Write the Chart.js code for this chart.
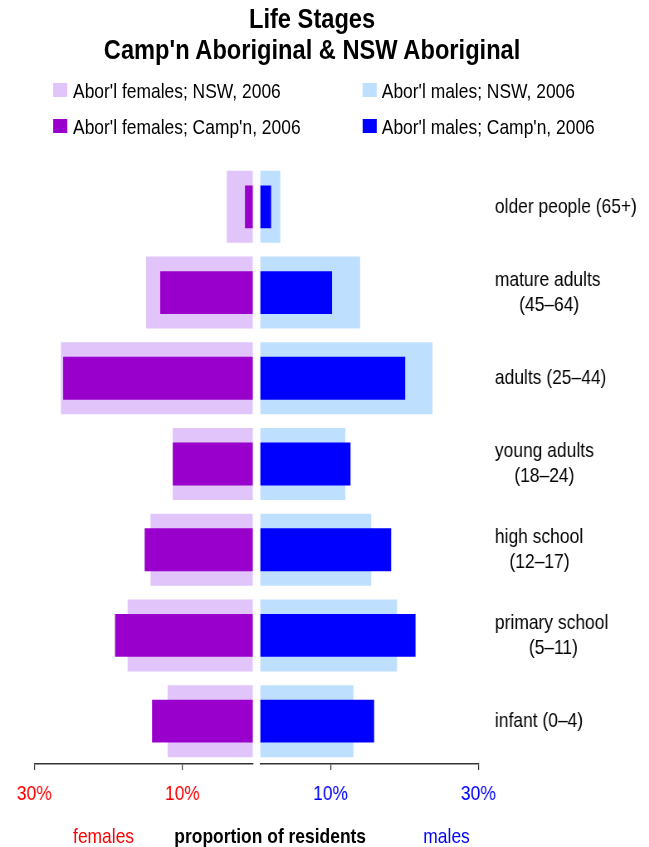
<!DOCTYPE html>
<html>
<head>
<meta charset="utf-8">
<title>Life Stages</title>
<script src="https://cdn.jsdelivr.net/npm/chart.js@4.4.0/dist/chart.umd.min.js"></script>
<style>
    body { margin: 0; overflow: hidden; background: #fff; }
    /* the reference text is narrow, so the whole page is laid out wider and squeezed */
    #stage {
        position: absolute; left: 0; top: 0; width: 782px; height: 847px;
        transform: scaleX(0.83); transform-origin: 0 0;
        font-family: "Liberation Sans", Arial, sans-serif; color: #000;
    }
    .txt { position: absolute; line-height: 1; white-space: nowrap; }
    .title { left: 0; width: 752px; text-align: center; font-size: 28.5px; font-weight: bold; }
    .leg { font-size: 21px; }
    .swatch { position: absolute; width: 17px; height: 14px; }
    .cap { font-size: 21px; top: 825px; }
    .box { position: absolute; top: 124px; height: 700px; }
</style>
</head>
<body>
<div id="stage">
    <div class="txt title" style="top:4px">Life Stages</div>
    <div class="txt title" style="top:35px">Camp'n Aboriginal &amp; NSW Aboriginal</div>
    <div id="legend"></div>
    <div class="box" style="left:0; width:309px"><canvas id="femChart"></canvas></div>
    <div class="box" style="left:309px; width:473px"><canvas id="maleChart"></canvas></div>
    <div class="txt cap" style="left:88px; color:#FF0000">females</div>
    <div class="txt cap" style="left:210px; font-weight:bold">proportion of residents</div>
    <div class="txt cap" style="left:510px; color:#0000FF">males</div>
</div>
<script>
// Life stage categories (top to bottom)
const stages = [
    ['older people (65+)'],
    ['mature adults', '     (45–64)'],
    ['adults (25–44)'],
    ['young adults', '    (18–24)'],
    ['high school', '   (12–17)'],
    ['primary school', '       (5–11)'],
    ['infant (0–4)']
];

// % of residents in each stage
const femNsw   = [4.0, 14.9, 26.4, 11.3, 14.3, 17.4, 12.0];
const femCampn = [1.55, 13.0, 26.1, 11.3, 15.1, 19.1, 14.1];
const maleNsw   = [3.2, 14.0, 23.8, 12.0, 15.5, 19.0, 13.1];
const maleCampn = [1.95, 10.2, 20.1, 12.7, 18.2, 21.5, 15.9];

const tickVals = [10, 30];

const seriesNames = [
    "Abor'l females; NSW, 2006",
    "Abor'l males; NSW, 2006",
    "Abor'l females; Camp'n, 2006",
    "Abor'l males; Camp'n, 2006"
];
const seriesColors = ['#E0C4FA', '#BFDFFF', '#9900CC', '#0000FF'];

const labelFont = { family: 'Liberation Sans', size: 21, lineHeight: 1.2 };

// Legend, two columns
const legend = document.getElementById('legend');
seriesNames.forEach((name, i) => {
    const col = i % 2, row = Math.floor(i / 2);
    const sw = document.createElement('div');
    sw.className = 'swatch';
    sw.style.left = (col ? 437 : 64) + 'px';
    sw.style.top = (83 + row * 36) + 'px';
    sw.style.background = seriesColors[i];
    legend.appendChild(sw);
    const t = document.createElement('div');
    t.className = 'txt leg';
    t.style.left = (col ? 460 : 88) + 'px';
    t.style.top = (80 + row * 36) + 'px';
    t.textContent = name;
    legend.appendChild(t);
});

function xAxis(reverse, color) {
    return {
        type: 'linear',
        min: 0.5,
        max: 30,
        reverse: reverse,
        afterBuildTicks: (s) => { s.ticks = tickVals.map(v => ({ value: v })); },
        afterFit: (s) => { s.height = 60; },
        grid: { drawOnChartArea: false, tickLength: 6, color: '#333', lineWidth: 1.2 },
        border: { color: '#333', width: 1.5 },
        ticks: {
            color: color, font: labelFont, padding: 12,
            maxRotation: 0, autoSkip: false,
            callback: (v) => v + '%'
        }
    };
}

function makeChart(id, campn, nsw, campnColor, nswColor, tickColor, left) {
    const ctx = document.getElementById(id).getContext('2d');
    return new Chart(ctx, {
        type: 'bar',
        data: {
            labels: stages,
            datasets: [
                { label: 'Camp\'n', data: campn, backgroundColor: campnColor,
                  barPercentage: 0.5, categoryPercentage: 1, grouped: false, clip: 0 },
                { label: 'NSW', data: nsw, backgroundColor: nswColor,
                  barPercentage: 0.84, categoryPercentage: 1, grouped: false, clip: 0 }
            ]
        },
        options: {
            indexAxis: 'y',
            animation: false,
            responsive: true,
            maintainAspectRatio: false,
            layout: {
                padding: left
                    ? { left: 41.3, right: 4.5, top: 40, bottom: 0 }
                    : { left: 4.7, right: 0, top: 40, bottom: 0 }
            },
            plugins: { legend: { display: false }, tooltip: { enabled: false } },
            scales: {
                x: xAxis(left, tickColor),
                y: left ? { display: false } : {
                    position: 'right',
                    afterFit: (s) => { s.width = 205.7; },
                    grid: { display: false, drawTicks: false },
                    border: { display: false },
                    ticks: { color: '#000', font: labelFont, padding: 20, autoSkip: false }
                }
            }
        }
    });
}

makeChart('femChart', femCampn, femNsw, seriesColors[2], seriesColors[0], '#FF0000', true);
makeChart('maleChart', maleCampn, maleNsw, seriesColors[3], seriesColors[1], '#0000FF', false);
</script>
</body>
</html>
